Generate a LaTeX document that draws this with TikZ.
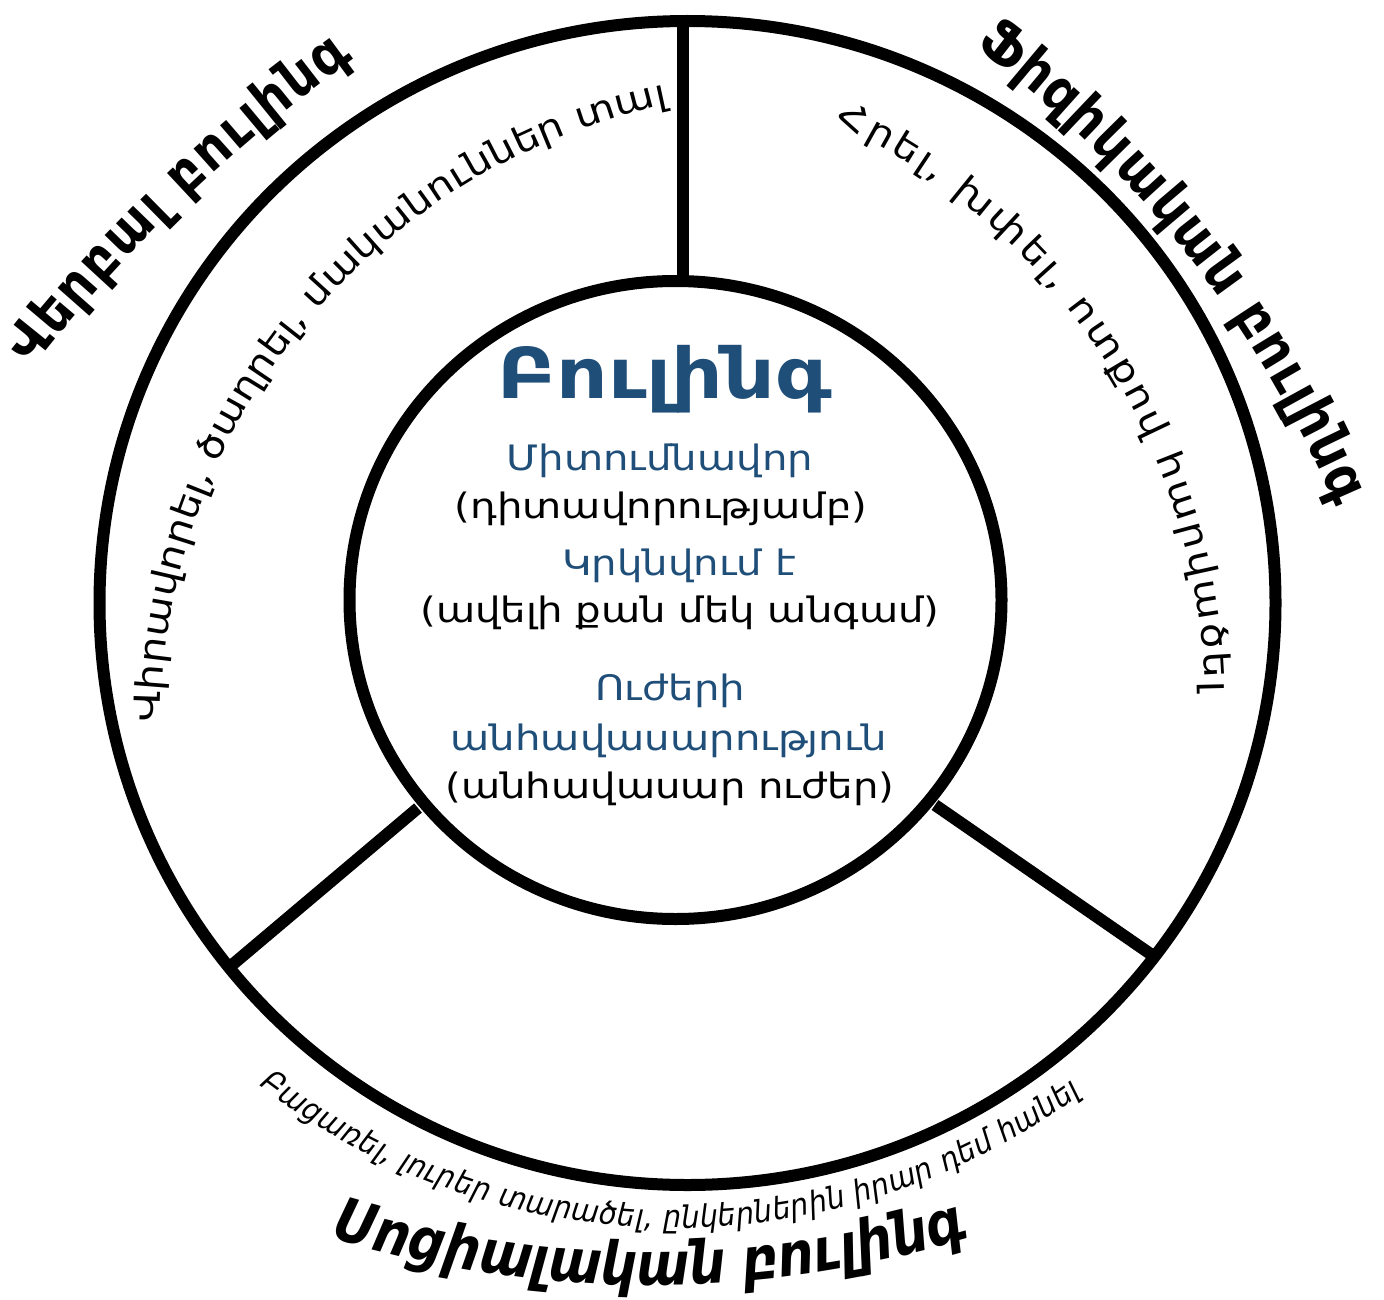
\documentclass[tikz,border=0pt]{standalone}
\usepackage{fontspec}
\setmainfont{DejaVu Sans}
\newfontfamily\widefont[FakeStretch=1.15]{DejaVu Sans}
\newfontfamily\headfont[FakeStretch=0.92]{DejaVu Sans}
\newfontfamily\socfont[FakeStretch=0.85]{DejaVu Sans}
\newfontfamily\smallfont[FakeStretch=0.92]{DejaVu Sans}
\usetikzlibrary{decorations.text}

\definecolor{bulblue}{RGB}{31,78,121}

\tikzset{
  ring/.style={line width=12pt, draw=black},
  spoke/.style={line width=12pt, draw=black},
  arctext/.style={decorate, decoration={text along path, text align=center, text={#1}}},
  fittext/.style={decorate, decoration={text along path, text align=fit to path, text={#1}}},
  centertext/.style={anchor=base, inner sep=0pt, font=\widefont\fontsize{35}{42}\selectfont},
}

\begin{document}
\begin{tikzpicture}[x=1pt,y=1pt]
\useasboundingbox (0,0) rectangle (1384,-1300);

% centres of the two rings
\coordinate (oc) at (687.5,-603);
\coordinate (ic) at (675.5,-600);

% spokes between the rings
\coordinate (topin)  at (682.5,-281);
\coordinate (topout) at (682.5,-22);
\coordinate (llin)   at (418,-808);
\coordinate (llout)  at (232,-965);
\coordinate (lrin)   at (935,-805);
\coordinate (lrout)  at (1152,-955);
\draw[spoke] (topin) -- (topout);
\draw[spoke] (llin) -- (llout);
\draw[spoke] (lrin) -- (lrout);

% rings
\draw[ring] (oc) ellipse [x radius=588, y radius=582];
\draw[ring] (ic) ellipse [x radius=326, y radius=319];

% outer headings
\coordinate (vhc) at (1289.5,-1356.8);
\path[fittext={|\headfont\bfseries\fontsize{56}{64}\selectfont|Վերբալ բուլինգ}]
  (vhc) ++(141.8:1600) arc[start angle=141.8, end angle=125.8, radius=1600];
\coordinate (fhc) at (304.3,-943.2);
\path[fittext={|\headfont\bfseries\fontsize{57}{65}\selectfont|Ֆիզիկական բուլինգ}]
  (fhc) ++(53.2:1120) arc[start angle=53.2, end angle=22.9, radius=1120];
\coordinate (shc) at (650,-185);
\path[arctext={|\socfont\bfseries\itshape\fontsize{60}{68}\selectfont|Սոցիալական բուլինգ}]
  (shc) ++(250:1100) arc[start angle=250, end angle=290, radius=1100];

% ring captions
\coordinate (lc) at (798,-729);
\path[fittext={|\widefont\fontsize{36}{42}\selectfont|Վիրավորել, ծաղրել, մականուններ տալ}]
  (lc) ++(179.4:638) arc[start angle=179.4, end angle=101.8, radius=638];
\coordinate (rc) at (564,-704);
\path[fittext={|\widefont\fontsize{36}{42}\selectfont|Հրել, խփել, ոտքով հարվածել}]
  (rc) ++(65:641) arc[start angle=65, end angle=1, radius=641];
\coordinate (sc) at (676,-547);
\path[fittext={|\smallfont\itshape\fontsize{31}{36}\selectfont|Բացառել, լուրեր տարածել, ընկերներին իրար դեմ հանել}]
  (sc) ++(232.3:681) arc[start angle=232.3, end angle=306.5, radius=681];

% centre texts
\node[centertext, font=\widefont\bfseries\fontsize{70}{80}\selectfont, text=bulblue] (title) at (665,-398) {Բուլինգ};
\node[centertext, text=bulblue] (t1) at (660,-470) {Միտումնավոր};
\node[centertext] (t2) at (661,-518) {(դիտավորությամբ)};
\node[centertext, text=bulblue] (t3) at (679,-575) {Կրկնվում է};
\node[centertext] (t4) at (680,-622) {(ավելի քան մեկ անգամ)};
\node[centertext, text=bulblue] (t5) at (670,-700) {Ուժերի};
\node[centertext, text=bulblue] (t6) at (669,-750) {անհավասարություն};
\node[centertext] (t7) at (670,-798) {(անհավասար ուժեր)};
\end{tikzpicture}
\end{document}
